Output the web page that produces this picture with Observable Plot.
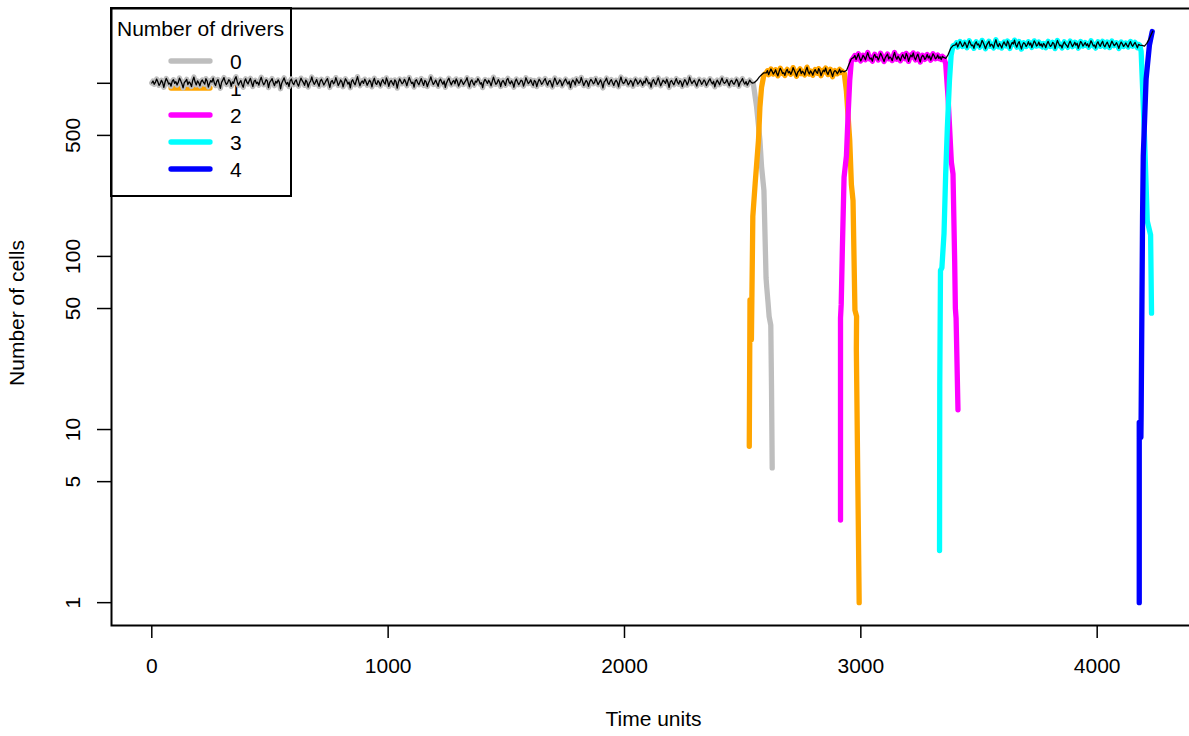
<!DOCTYPE html>
<html>
<head>
<meta charset="utf-8">
<script src="https://cdn.jsdelivr.net/npm/d3@7"></script>
<script src="https://cdn.jsdelivr.net/npm/@observablehq/plot@0.6"></script>
<style>
  html, body { margin: 0; padding: 0; background: white; overflow: hidden; }
</style>
</head>
<body>
<div id="chart"></div>
<script>
// ---------- data ----------
const xTicks = [0, 1000, 2000, 3000, 4000];
const yTicks = [1, 5, 10, 50, 100, 500, 1000];
const yTickLabels = [1, 5, 10, 50, 100, 500];
const legendTitle = "Number of drivers";
const driverLabels = ["0", "1", "2", "3", "4"];
const driverColors = ["#BEBEBE", "#FFA500", "#FF00FF", "#00FFFF", "#0000FF"];

// total population, plateau segments (values evenly spaced between start and end time)
const totalA = { t0: 0, t1: 2540, v: [
1004,1031,987,1012,1058,1020,973,996,1041,1009,948,1017,1066,1035,990,1003,962,1028,1049,1000,
1022,977,1013,1072,1036,995,941,1008,1027,1054,983,1019,1001,957,1039,1086,1016,979,1032,1006,
966,1024,1045,1011,989,1063,1029,952,998,1037,1015,1070,1002,970,1026,1051,993,936,1012,1043,
1079,1021,984,1007,1048,1030,961,1018,1000,1057,1092,1025,976,1010,1038,985,949,1023,1061,1014,
991,1034,1068,1003,958,1027,1042,997,1015,975,1040,1083,1019,980,1006,1050,1031,944,1011,1036,
1064,1008,969,1025,1002,1046,1017,930,1001,1039,1075,1021,988,1012,957,1033,1059,1005,982,1026,
1047,994,963,1020,1071,1035,1009,973,1044,1016,951,1004,1029,1088,1023,986,1013,1052,999,960,
1030,1055,1018,977,1007,1040,1066,1003,946,1021,1037,992,1014,1078,1028,971,1000,1045,1019,955,
1010,1062,1034,989,1016,942,1026,1049,1005,980,1038,1093,1022,967,1011,1032,998,1057,1024,974,
1006,1043,1015,953,1027,1069,1001,985,1036,1013,964,1020,1051,1008,990,1074,1030,959,1017,1039,
1002,975,1046,1021,938,1012,1060,1028,993,1009,1054,1019,968,1025,1081,1035,997,1014,950,1033,
1048,1007,981,1023,1065,1011,972,1040,1018,956,1003,1037,1090,1026,984,1010,1044,999,961,1029,
1056,1016,988,1031,947,1005,1042,1070,1013,979,1022,1038,994,1061,1027,965,1001,1049,1020,983,
1011,1035,1077,1009,954,1024,1047,1002,976,1030,1015,1063,1036,990,1008,944,1019,1053,1028,997,
1041,1012,967,1026,1085,1032,986,1004,1050,1021,958,1017,1039,1006,973,1045,1068,1014,992,1033,
1003,949,1024,1059,1018,982,1010,1043,1027,963,1009,1076,1034,995,1016,1048,1001,970,1038,1022,
957,1013,1055,1029,987,1006,1040,1064,1011,975,1023,1037,998,952,1019,1072,1031,984,1008,1046,
1025,966,1002,1035,1058,1015,990,1027,945,1012,1044,1020,978,1062,1033,1000,1017,1082,1026,969,
1005,1039,1016,959,1021,1053,1030,993,1009,1067,1024,982,1014,1047,1002,940,1018,1036,1071,1010,
985,1028,1050,1006,971,1019,1042,1013,955,1031,1087,1023,996,1011,1056,1027,979,1003,1040,1017,
962,1022,1060,1034,988,1008,1045,1015,974,1029,1004,1069,1037,992,1012,951,1026,1052,1009,983,
1033,1075,1019,967,1005,1043,1024,998,1058,1014,946,1020,1039,1003,980,1028,1064,1011,989,1037,
1016,958,1007,1049,1026,976,1013,1084,1032,995,1021,1041,1002,963,1018,1055,1029,986,1010,1046,
1023,970,1001,1036,1062,1017,992,1027,953,1008,1044,1012,981,1030,1073,1020,999,1015,1051,1006,
968,1025,1040,1003,987,1019,1057,1028,961,1011,1034,1066,1014,990,1022,975,1006,1043,1018,1004]};
const totalC = { t0: 2600, t1: 2920, v: [
1148,1183,1121,1165,1209,1172,1130,1156,1197,1141,1104,1168,1220,1186,1139,1152,1110,1175,1203,1149,
1170,1126,1161,1232,1191,1145,1098,1158,1180,1214,1136,1173,1155,1117,1188,1240,1166,1131,1178,1151,
1113,1169,1199,1162,1142,1216,1184,1106,1150,1190,1167,1225,1157,1123,1176,1204,1146,1092,1160,1185,
1171,1134,1163,1207,1154,1178]};
const totalE = { t0: 2970, t1: 3350, v: [
1412,1448,1371,1425,1483,1403,1346,1390,1452,1418,1367,1436,1505,1428,1380,1399,1342,1431,1470,1407,
1426,1363,1415,1492,1446,1388,1335,1402,1439,1477,1384,1420,1397,1352,1441,1508,1416,1376,1434,1393,
1349,1422,1465,1411,1385,1488,1440,1339,1404,1456,1421,1498,1409,1365,1430,1474,1395,1327,1413,1451,
1427,1374,1408,1467,1401,1437,1360,1419,1481,1443,1386,1406,1458,1392,1424,1370,1432,1410]};
const totalG = { t0: 3400, t1: 4180, v: [
1668,1712,1621,1679,1745,1690,1630,1655,1728,1684,1604,1672,1762,1701,1647,1663,1592,1695,1738,1666,
1688,1615,1676,1770,1719,1651,1583,1660,1707,1749,1636,1681,1657,1600,1710,1784,1673,1625,1699,1654,
1598,1683,1734,1678,1644,1755,1703,1589,1664,1722,1686,1775,1669,1618,1697,1741,1652,1576,1675,1716,
1692,1629,1670,1740,1661,1708,1610,1682,1758,1714,1641,1667,1731,1649,1689,1622,1700,1671,1606,1693,
1746,1680,1633,1658,1724,1696,1587,1674,1767,1705,1645,1662,1599,1687,1735,1679,1653,1613,1698,1752,
1685,1628,1671,1726,1659,1703,1594,1666,1743,1711,1639,1677,1720,1650,1691,1617,1682,1760,1706,1643,
1663,1596,1694,1737,1672,1635,1701,1748,1656,1624,1686,1729,1665,1608,1680,1753,1699,1648,1675,1716,
1660,1590,1673,1732,1689,1631,1668,1709,1654,1620,1692,1744,1670,1637,1685,1723,1662,1603,1678,1661]};
// total population, transitions [time, cells]
const totalB = [[2550,1010],[2560,1040],[2570,1085],[2580,1120],[2590,1150]];
const totalD = [[2930,1165],[2940,1190],[2950,1290],[2960,1385]];
const totalF = [[3360,1395],[3370,1470],[3380,1590],[3390,1650]];
const totalH = [[4190,1655],[4200,1640],[4210,1700],[4220,1800],[4230,1930],[4235,2000]];

// clone sweeps [time, cells]
const clone0Fall = [[2545,1000],[2559,730],[2573,470],[2580,330],[2590,240],[2599,75],[2602,66],[2607,55],[2612,45],[2619,40],[2622,18],[2625,6]];
const clone1Rise = [[2528,8],[2531,56],[2537,33],[2543,170],[2553,265],[2567,470],[2573,730],[2580,950],[2590,1120]];
const clone1Fall = [[2930,1140],[2939,900],[2953,470],[2960,260],[2967,210],[2975,49],[2982,45],[2981,29],[2993,1]];
const clone2Rise = [[2914,3],[2914,44],[2917,53],[2922,113],[2929,286],[2939,380],[2946,650],[2953,1040],[2960,1350]];
const clone2Fall = [[3359,1300],[3369,830],[3383,350],[3390,300],[3397,95],[3400,50],[3403,44],[3411,13]];
const clone3Rise = [[3333,2],[3334,18],[3337,83],[3343,86],[3352,136],[3359,300],[3366,550],[3375,1040],[3382,1450],[3390,1650]];
const clone3Fall = [[4186,1530],[4200,500],[4212,160],[4226,133],[4230,47]];
const clone4Rise = [[4178,1],[4178,11],[4185,9],[4186,12],[4192,170],[4195,380],[4207,1060],[4221,1660],[4233,1990]];

// ---------- build tables ----------
const seg = s => s.v.map((v, i) => [s.t0 + i * (s.t1 - s.t0) / (s.v.length - 1), v]);
const pts = (arr, clone) => arr.map(([t, n]) => ({t, n, clone}));

const totalData = pts([...seg(totalA), ...totalB, ...seg(totalC), ...totalD, ...seg(totalE), ...totalF, ...seg(totalG), ...totalH], "total");
const cloneData = [
  ...pts([...seg(totalA), ...clone0Fall], "0"),
  ...pts([...clone1Rise, ...seg(totalC), ...clone1Fall], "1"),
  ...pts([...clone2Rise, ...seg(totalE), ...clone2Fall], "2"),
  ...pts([...clone3Rise, ...seg(totalG), ...clone3Fall], "3"),
  ...pts(clone4Rise, "4")
];

const fontFamily = "'Liberation Sans', Arial, Helvetica, sans-serif";

function legendMark() {
  const g = d3.create("svg:g").attr("font-family", fontFamily).attr("font-size", 21)
    .attr("text-anchor", "start");
  g.append("rect").attr("x", 111).attr("y", 8).attr("width", 180).attr("height", 188)
    .attr("fill", "white").attr("stroke", "black").attr("stroke-width", 2);
  g.append("text").attr("x", 117).attr("y", 35.5).attr("fill", "black")
    .attr("text-anchor", "start").text(legendTitle);
  driverLabels.forEach((lab, i) => {
    const y = 61 + 27 * i;
    g.append("line").attr("x1", 171).attr("x2", 210).attr("y1", y).attr("y2", y)
      .attr("stroke", driverColors[i]).attr("stroke-width", 5.3).attr("stroke-linecap", "round");
    g.append("text").attr("x", 230).attr("y", y + 7.5).attr("fill", "black")
      .attr("text-anchor", "start").text(lab);
  });
  return g.node();
}

const chart = Plot.plot({
  width: 1195,
  height: 736,
  marginLeft: 111,
  marginRight: 0,
  marginTop: 8,
  marginBottom: 111,
  style: { fontFamily, fontSize: "21px", background: "white", maxWidth: "none", color: "black" },
  x: { domain: [-170.5, 4416] },
  y: { type: "log", domain: [0.738, 2704] },
  color: { domain: driverLabels, range: driverColors },
  marks: [
    legendMark,
    Plot.line(cloneData, { x: "t", y: "n", z: "clone", stroke: "clone", strokeWidth: 5.3,
      strokeLinecap: "round", strokeLinejoin: "round" }),
    Plot.line(totalData, { x: "t", y: "n", stroke: "black", strokeWidth: 1.3 }),
    Plot.frame({ stroke: "black", strokeWidth: 2 }),
    Plot.axisX({ ticks: xTicks, tickSize: 13, tickPadding: 20, tickFormat: d => String(d),
      label: null, strokeWidth: 1.5 }),
    Plot.axisY({ ticks: yTicks, tickSize: 14, tickFormat: () => "", label: null, strokeWidth: 1.5 }),
    Plot.text(yTickLabels, { y: d => d, text: d => String(d), frameAnchor: "left", dx: -38.5,
      rotate: -90, textAnchor: "middle", lineAnchor: "middle", fontSize: 21, fill: "black" }),
    Plot.text(["Time units"], { frameAnchor: "bottom", dy: 94, textAnchor: "middle", lineAnchor: "middle",
      fontSize: 21, fill: "black" }),
    Plot.text(["Number of cells"], { frameAnchor: "left", dx: -94.5, dy: -4, rotate: -90,
      textAnchor: "middle", lineAnchor: "middle", fontSize: 21, fill: "black" })
  ]
});
document.getElementById("chart").appendChild(chart);
</script>
</body>
</html>
